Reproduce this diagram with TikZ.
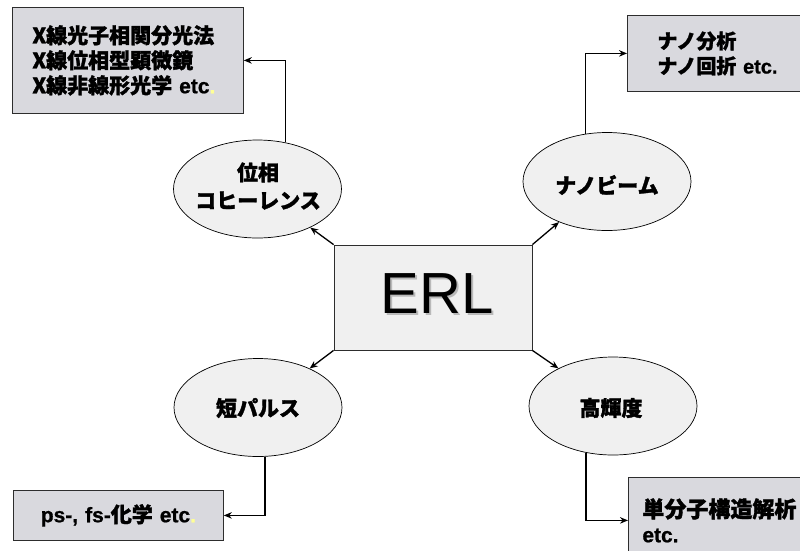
\documentclass[tikz,border=0pt]{standalone}
\usepackage{fontspec}
\setmainfont{Liberation Sans}[BoldFeatures={FakeBold=0.8}]
\newfontfamily\jp[BoldFeatures={FakeBold=1.5}]{Noto Sans CJK JP}
\usetikzlibrary{shapes.geometric,arrows.meta}
\definecolor{boxfill}{RGB}{217,217,222}
\definecolor{ellfill}{RGB}{240,240,240}
\definecolor{edgecol}{RGB}{45,45,45}
\definecolor{dotyel}{RGB}{255,255,150}
\definecolor{shadowcol}{RGB}{185,185,185}
\begin{document}
\begin{tikzpicture}[x=1pt,y=-1pt,
  infobox/.style={draw=edgecol, fill=boxfill, line width=0.8pt, rectangle, anchor=north west,
    inner ysep=0pt, font=\bfseries\fontsize{21}{25}\selectfont},
  topic/.style={draw=black, fill=ellfill, ellipse, line width=0.7pt, minimum width=168pt,
    minimum height=98pt, inner sep=0pt},
  topictext/.style={align=center, inner sep=0pt, font=\jp\bfseries\fontsize{21}{28}\selectfont},
  conn/.style={line width=1.3pt, -{Stealth[length=8pt,width=6.5pt]}},
]
\useasboundingbox (0,0) rectangle (800,550);
\clip (0,0) rectangle (800,550);

% information boxes
\node[infobox, minimum width=231pt, minimum height=106pt, text width=191pt, inner xsep=20pt, align=left] (tl) at (12,7)
  {{\jp X線光子相関分光法}\\{\jp X線位相型顕微鏡}\\{\jp X線非線形光学} etc\textcolor{dotyel}{.}};
\node[infobox, minimum width=220pt, minimum height=76pt, text width=160pt, inner xsep=30pt, align=left,
  font=\bfseries\fontsize{20}{25}\selectfont] (tr) at (627,15)
  {{\jp ナノ分析}\\{\jp ナノ回折} etc.};
\node[infobox, minimum width=210pt, minimum height=50pt, text width=196pt, inner xsep=7pt, align=center] (bl) at (13,490)
  {ps-, fs-{\jp 化学} etc\textcolor{dotyel}{.}};
\node[infobox, minimum width=220pt, minimum height=86pt, text width=196pt, inner xsep=14pt, align=left] (br) at (628,477)
  {{\jp\fontsize{22}{25}\selectfont 単分子構造解析}\\etc.};

% central box
\node[draw=edgecol, fill=ellfill, line width=0.8pt, minimum width=198pt, minimum height=105pt, inner sep=0pt] (erl) at (433,297.5) {};
\node[text=shadowcol, inner sep=0pt, font=\fontsize{58}{60}\selectfont] (erlshadow) at (439,296) {ERL};
\node[inner sep=0pt, font=\fontsize{58}{60}\selectfont] (erltext) at (437,294) {ERL};

% topic ellipses
\node[topic] (coh) at (257.5,189) {};
\node[topictext] (cohtext) at (258,186) {位相\\コヒーレンス};
\node[topic] (nb) at (607,181.5) {};
\node[topictext] (nbtext) at (607,185) {ナノビーム};
\node[topic] (sp) at (258,407.5) {};
\node[topictext] (sptext) at (258,408) {短パルス};
\node[topic] (hb) at (613,406) {};
\node[topictext] (hbtext) at (611,408) {高輝度};

% connectors
\draw[conn] (erl.north west) -- (coh);
\draw[conn] (erl.north east) -- (nb);
\draw[conn] (erl.south west) -- (sp);
\draw[conn] (erl.south east) -- (hb);
\draw[conn] (coh.59) |- (tl.east);
\draw[conn] (nb.114) |- (tr.west);
\draw[conn] (sp.-82) |- (bl.east);
\draw[conn] (hb.-120) |- (br.west);
\end{tikzpicture}
\end{document}
